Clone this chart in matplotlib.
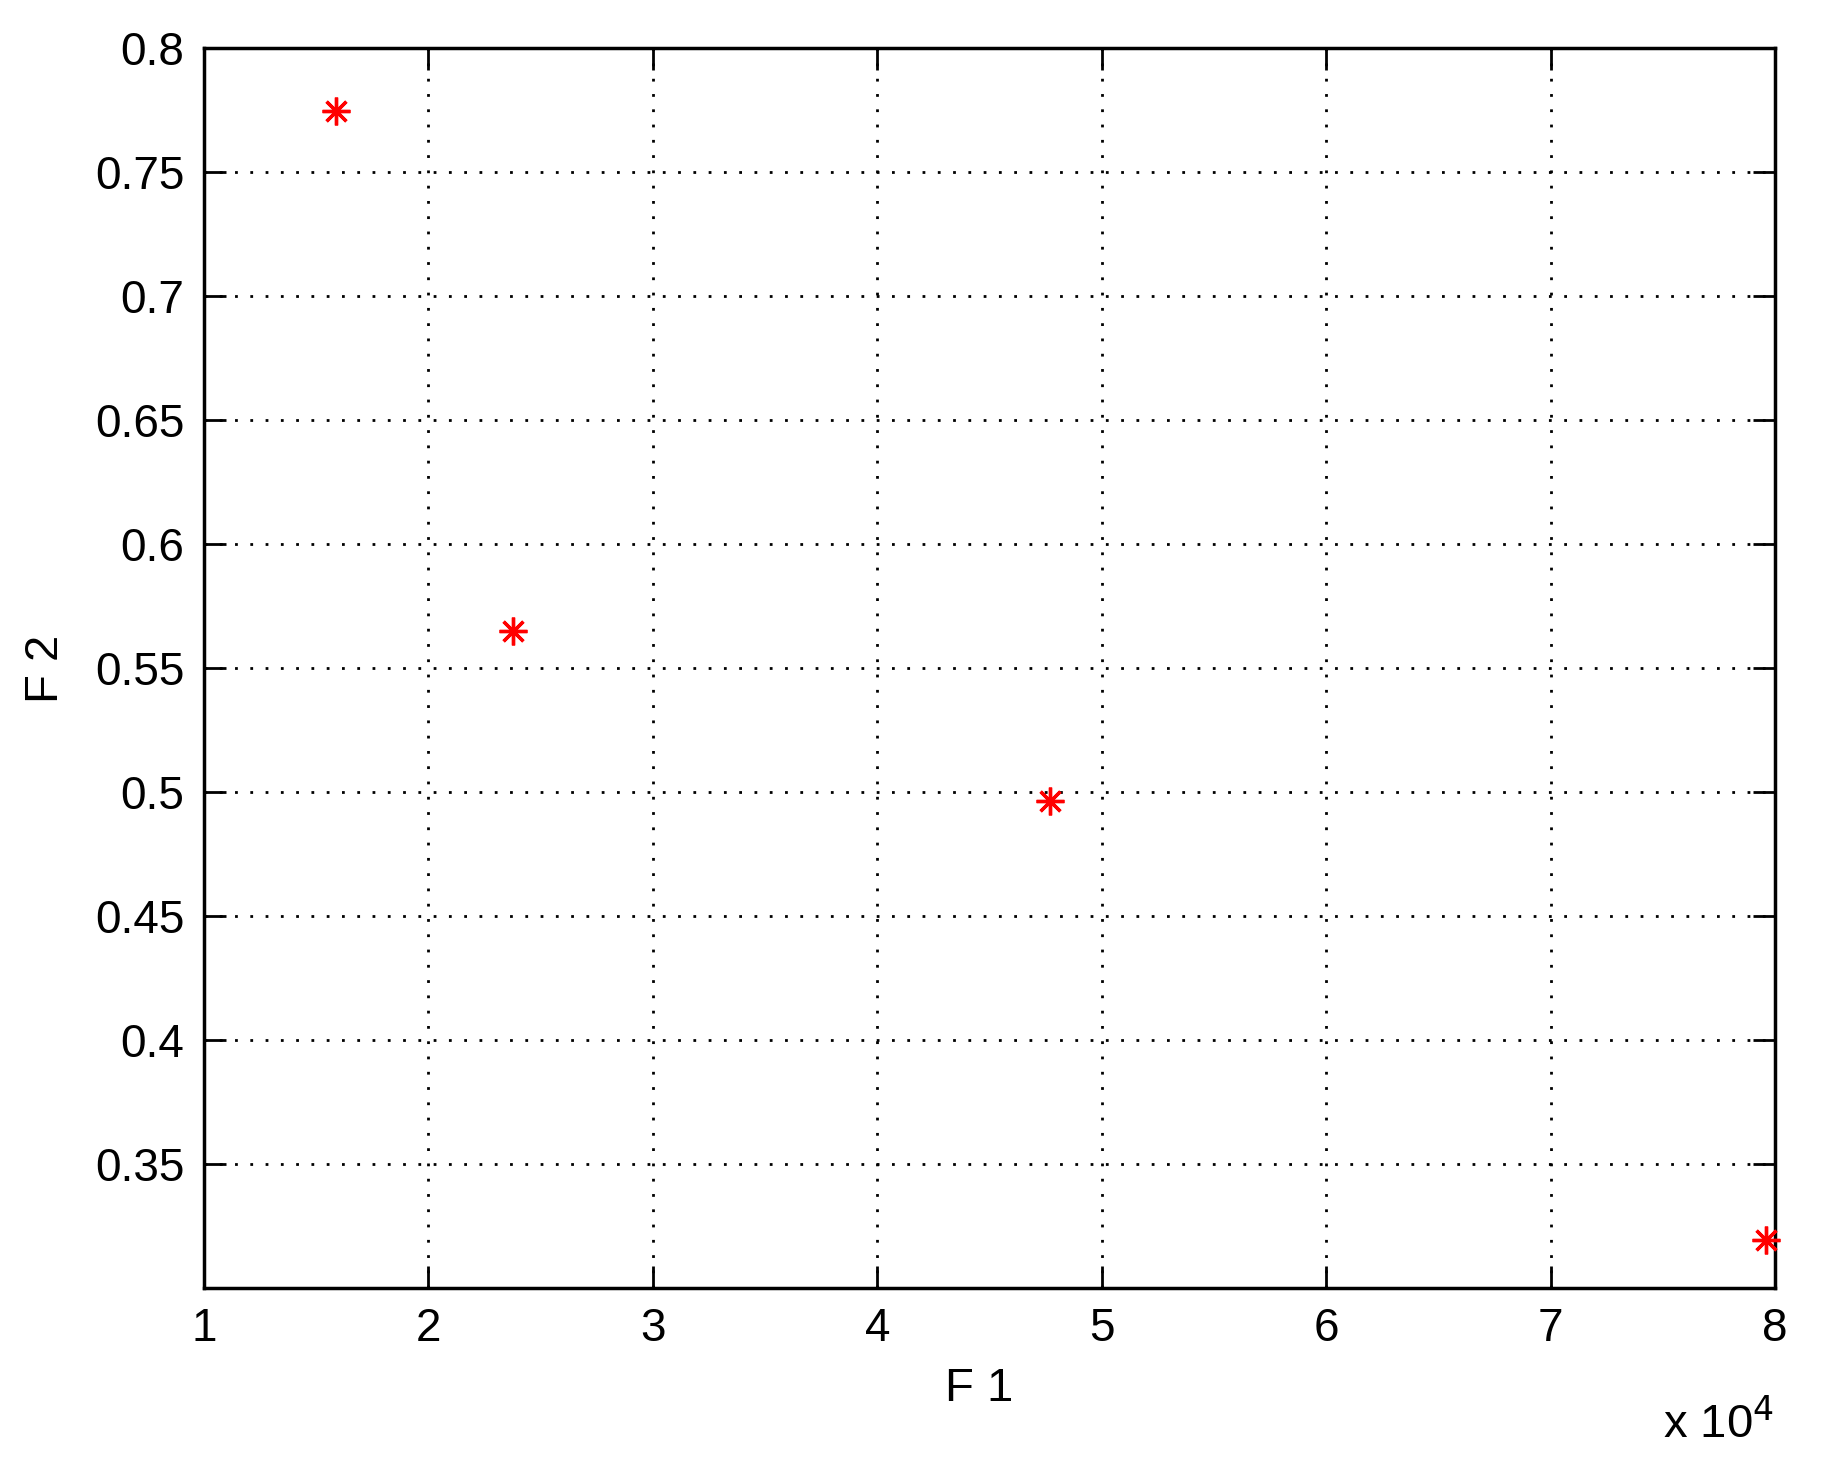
import matplotlib
matplotlib.use("Agg")
import matplotlib.pyplot as plt

# data (F1 in raw units, shown as x 10^4)
f1 = [15870, 23760, 47700, 79580]
f2 = [0.7746, 0.5650, 0.4964, 0.3194]

xticks = [1, 2, 3, 4, 5, 6, 7, 8]
yticks = [0.35, 0.4, 0.45, 0.5, 0.55, 0.6, 0.65, 0.7, 0.75, 0.8]
ytick_labels = ["0.35", "0.4", "0.45", "0.5", "0.55", "0.6", "0.65", "0.7", "0.75", "0.8"]

plt.rcParams['font.family'] = ['Liberation Sans', 'DejaVu Sans']

fig = plt.figure(figsize=(18.26, 14.77), dpi=100)
ax = fig.add_axes([204 / 1826, 1 - 1288 / 1477, (1775 - 204) / 1826, (1288 - 48) / 1477])

#   MATLAB-style asterisk marker
ax.plot(f1, f2, linestyle="none", marker=(8, 2, 0), markersize=20,
        markeredgewidth=2.4, color="red", clip_on=False, zorder=5)

ax.set_xlim(1e4, 8e4)
ax.set_ylim(0.3, 0.8)
ax.set_xticks([t * 1e4 for t in xticks])
ax.set_xticklabels([str(t) for t in xticks])
ax.set_yticks(yticks)
ax.set_yticklabels(ytick_labels)

ax.grid(True, color="black", linestyle=(0, (1, 4.5)), linewidth=2)
ax.tick_params(direction="in", length=16, width=2, labelsize=33, pad=14,
               top=True, right=True)
for s in ax.spines.values():
    s.set_linewidth(2.5)

ax.set_xlabel("F 1", fontsize=34)
ax.set_ylabel("F 2", fontsize=34)
ax.xaxis.set_label_coords((979 - 204) / 1571, (1288 - 1389) / 1240)
ax.yaxis.set_label_coords((46 - 204) / 1571, (1288 - 669) / 1240)
ax.xaxis.label.set_va("center")
ax.yaxis.label.set_va("center")
fig.text(1663 / 1826, 1 - 1438 / 1477, r"x 10$^{4}$", fontsize=34,
         ha="left", va="baseline")

fig.savefig("out.png", dpi=100, facecolor="white")
